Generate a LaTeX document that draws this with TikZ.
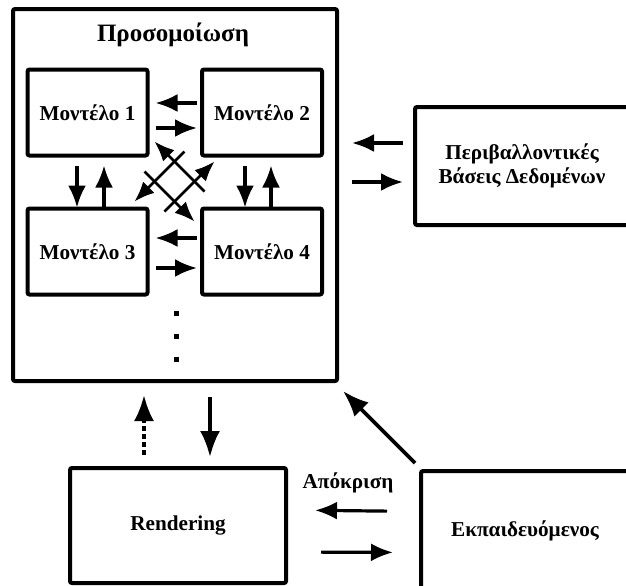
\documentclass[tikz,border=0pt]{standalone}
\usepackage{fontspec}
\setmainfont{Liberation Serif}
\usetikzlibrary{arrows.meta}

\tikzset{
  box/.style={draw, line width=2pt, rounded corners=1pt, outer sep=0pt, inner sep=0pt,
    font=\fontsize{10.6}{12}\selectfont\bfseries, align=center},
  modelBox/.style={box, minimum width=60pt, minimum height=43pt},
  flow/.style={line width=1.6pt, -{Latex[length=11pt,width=9pt]}},
  bigFlow/.style={line width=1.8pt, -{Latex[length=13pt,width=10pt]}},
  crossFlow/.style={line width=1.3pt, -{Latex[length=10pt,width=8pt]}},
}

\begin{document}
\begin{tikzpicture}[x=0.5pt,y=-0.5pt] % pixel grid, y runs down
  \useasboundingbox (0,0) rectangle (626,585);
  \clip (0,0) rectangle (626,585);

  % simulation block
  \node[box, minimum width=162pt, minimum height=186pt] (sim) at (175,195) {};
  \node[font=\fontsize{12.5}{14}\selectfont\bfseries] (simTitle) at (173,35) {Προσομοίωση};

  % models
  \node[modelBox] (m1) at (87.5,112.5) {Μοντέλο 1};
  \node[modelBox] (m2) at (262,112.5) {Μοντέλο 2};
  \node[modelBox] (m3) at (87.5,251.5) {Μοντέλο 3};
  \node[modelBox] (m4) at (262,251.5) {Μοντέλο 4};
  \coordinate (mid) at (174.5,181.5);

  % vertical dots
  \foreach \y in {313,336,359}
    \fill (173.5,\y-2.5) rectangle +(5,5);

  % outer blocks
  \node[box, minimum width=107pt, minimum height=59pt] (db) at (522,166) {Περιβαλλοντικές\\Βάσεις Δεδομένων};
  \node[box, minimum width=108pt, minimum height=57.5pt] (rend) at (178,525.5) {Rendering};
  \node[box, minimum width=104pt, minimum height=59.5pt] (lrn) at (525,530.5) {Εκπαιδευόμενος};
  \node[font=\fontsize{10.6}{12}\selectfont\bfseries] (resp) at (348,483) {Απόκριση};

  % model to model
  \draw[flow, shorten <=2.5pt, shorten >=4pt] ([yshift=4.75pt]m2.west) -- ([yshift=4.75pt]m1.east);
  \draw[flow, shorten <=4pt, shorten >=2.5pt] ([yshift=-7.75pt]m1.east) -- ([yshift=-7.75pt]m2.west);
  \draw[flow, shorten <=2.5pt, shorten >=4pt] ([yshift=6.75pt]m4.west) -- ([yshift=6.75pt]m3.east);
  \draw[flow, shorten <=4pt, shorten >=2.5pt] ([yshift=-8.25pt]m3.east) -- ([yshift=-8.25pt]m4.west);

  \draw[flow, shorten <=5pt, shorten >=0.5pt] ([xshift=-5.25pt]m1.south) -- ([xshift=-5.25pt]m3.north);
  \draw[flow, shorten <=0.5pt, shorten >=5pt] ([xshift=8.25pt]m3.north) -- ([xshift=8.25pt]m1.south);
  \draw[flow, shorten <=5pt, shorten >=0.5pt] ([xshift=-8.5pt]m2.south) -- ([xshift=-8.5pt]m4.north);
  \draw[flow, shorten <=0.5pt, shorten >=5pt] ([xshift=4.5pt]m4.north) -- ([xshift=4.5pt]m2.south);

  % crossing arrows
  \draw[crossFlow] ([shift={(30,10)}]mid) -- ([shift={(-20,-40)}]mid);
  \draw[crossFlow] ([shift={(-30,-10)}]mid) -- ([shift={(20,40)}]mid);
  \draw[crossFlow] ([shift={(-10,30)}]mid) -- ([shift={(40,-20)}]mid);
  \draw[crossFlow] ([shift={(10,-30)}]mid) -- ([shift={(-40,20)}]mid);

  % simulation <-> databases
  \draw[flow, shorten <=6pt, shorten >=7.5pt] ([yshift=11.5pt]db.west) -- ([yshift=26pt]sim.east);
  \draw[flow, shorten <=7.5pt, shorten >=6pt] ([yshift=6.5pt]sim.east) -- ([yshift=-8pt]db.west);

  % simulation <-> rendering
  \draw[bigFlow, dash pattern=on 2.5pt off 1.5pt, shorten <=6.5pt, shorten >=7pt] ([xshift=-17pt]rend.north) -- ([xshift=-15.5pt]sim.south);
  \draw[bigFlow, shorten <=8pt, shorten >=5.5pt] ([xshift=17.5pt]sim.south) -- ([xshift=16pt]rend.north);

  % trainee
  \draw[bigFlow] ([shift={(-6,-8)}]lrn.north west) -- ([shift={(6,10)}]sim.south east);
  \draw[flow, shorten <=17pt, shorten >=14.5pt] ([yshift=9.5pt]lrn.west) -- ([yshift=7.75pt]rend.east);
  \draw[flow, shorten <=17.5pt, shorten >=14pt] ([yshift=-13.25pt]rend.east) -- ([yshift=-11pt]lrn.west);
\end{tikzpicture}
\end{document}
